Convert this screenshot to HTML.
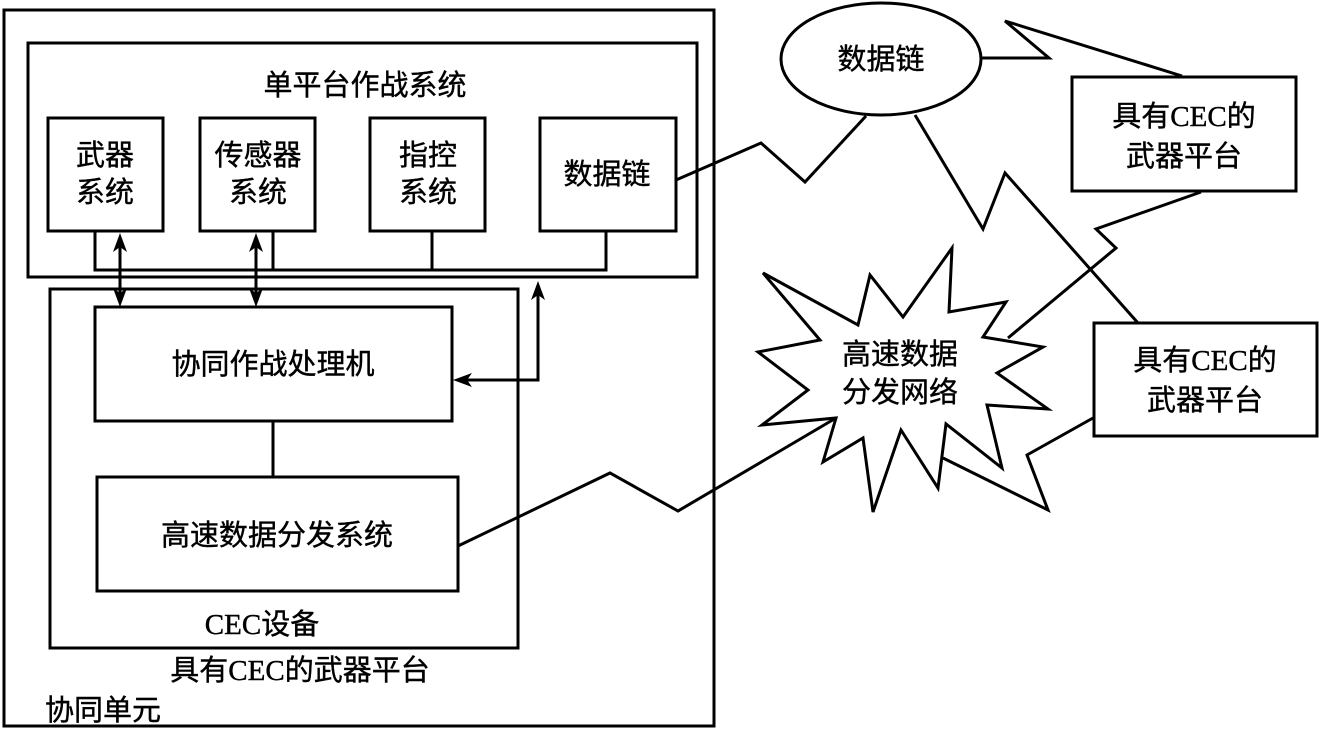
<!DOCTYPE html>
<html><head><meta charset="utf-8"><style>
html,body{margin:0;padding:0;background:#fff;}
svg{display:block;}
text{font-family:"Liberation Serif","Noto Sans CJK SC",serif;font-size:29px;fill:#000;stroke:#000;stroke-width:0.4;}
</style></head><body>
<svg width="1319" height="730" viewBox="0 0 1319 730" xmlns="http://www.w3.org/2000/svg">
<g fill="none" stroke="#000" stroke-width="3">
<rect x="4" y="10" width="710" height="716"/>
<rect x="28" y="43" width="669" height="234"/>
<rect x="48" y="118" width="115" height="113"/>
<rect x="200" y="118" width="115" height="113"/>
<rect x="370" y="118" width="115" height="113"/>
<rect x="540" y="118" width="136" height="113"/>
<polyline points="95,231 95,270 606,270 606,231"/>
<line x1="273" y1="231" x2="273" y2="270"/>
<line x1="432" y1="231" x2="432" y2="270"/>
<rect x="50" y="289" width="468" height="359"/>
<rect x="95" y="307" width="357" height="114"/>
<rect x="97" y="477" width="361" height="114"/>
<line x1="273" y1="421" x2="273" y2="477"/>
<line x1="120" y1="245" x2="120" y2="296"/>
<line x1="256" y1="245" x2="256" y2="296"/>
<polyline points="464,380 538,380 538,292"/>
<ellipse cx="881" cy="59" rx="100" ry="56"/>
<rect x="1072" y="77" width="224" height="114"/>
<rect x="1094" y="323" width="223" height="113"/>
<polyline points="676,180 761,143 805,182 866,116"/>
<polyline points="981,58 1049,58 1005,21 1182,76"/>
<polyline points="1201,192 1096,229 1116,248 1008,338"/>
<polyline points="915,115 983,229 1005,173 1138,323"/>
<polyline points="1093,418 1027,455 1048,510 943,458"/>
<polyline points="458,546 610,473 678,511 836,418"/>
<polygon points="763,273 858,325 870,275 903,317 952,248 949,312 1006,302 983,337 1043,347 997,373 1048,409 987,405 1002,468 946,424 938,488 901,430 873,512 863,438 823,462 836,418 762,425 808,390 758,352 820,340" fill="#fff"/>
</g>
<g fill="#000">
<polygon points="120,233 113,252 120,247 127,252"/>
<polygon points="120,307 113,288 120,293 127,288"/>
<polygon points="256,233 249,252 256,247 263,252"/>
<polygon points="256,307 249,288 256,293 263,288"/>
<polygon points="538,281 531,300 538,295 545,300"/>
<polygon points="453,380 472,373 467,380 472,387"/>
</g>
<text x="365" y="95" text-anchor="middle">单平台作战系统</text>
<text x="105" y="165" text-anchor="middle">武器</text>
<text x="105" y="202" text-anchor="middle">系统</text>
<text x="258" y="165" text-anchor="middle">传感器</text>
<text x="258" y="202" text-anchor="middle">系统</text>
<text x="428" y="165" text-anchor="middle">指控</text>
<text x="428" y="202" text-anchor="middle">系统</text>
<text x="607" y="184" text-anchor="middle">数据链</text>
<text x="273" y="374" text-anchor="middle">协同作战处理机</text>
<text x="277" y="545" text-anchor="middle">高速数据分发系统</text>
<text x="262" y="634" text-anchor="middle">CEC设备</text>
<text x="300" y="680" text-anchor="middle">具有CEC的武器平台</text>
<text x="45" y="720">协同单元</text>
<text x="881" y="69" text-anchor="middle">数据链</text>
<text x="1184" y="126" text-anchor="middle">具有CEC的</text>
<text x="1184" y="166" text-anchor="middle">武器平台</text>
<text x="1205" y="370" text-anchor="middle">具有CEC的</text>
<text x="1205" y="410" text-anchor="middle">武器平台</text>
<text x="900" y="364" text-anchor="middle">高速数据</text>
<text x="900" y="402" text-anchor="middle">分发网络</text>
</svg>
</body></html>
